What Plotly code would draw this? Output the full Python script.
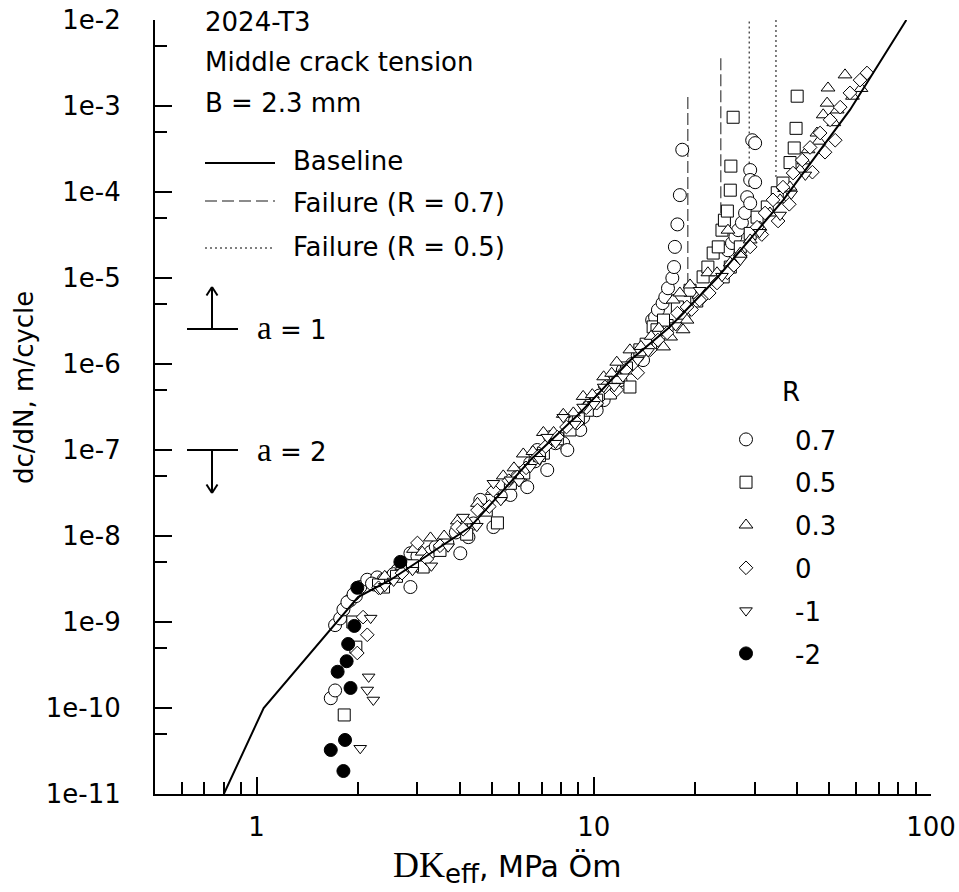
import plotly.graph_objects as go

FONT = "DejaVu Sans"
SERIF = "Liberation Serif"

# ---------------- data ----------------
baseline_dk = [0.8, 1.05, 2.0, 2.5, 4.3, 6.5, 9.1, 12.8, 16.8, 23.2, 36.4, 57.5, 84.5]
baseline_rate = [1e-11, 1e-10, 1.95e-9, 3.1e-9, 1.27e-8, 7.7e-8, 2.7e-7, 1.1e-6, 2.7e-6,
                 1.0e-5, 8.0e-5, 9.0e-4, 1.0e-2]

# failure lines (dK at failure, top / bottom of the vertical line)
fail07_dk = [19.0, 23.8]
fail07_top = [1.27e-3, 3.6e-3]
fail07_bot = [7.5e-6, 5.7e-5]
fail05_dk = [28.9, 34.7]
fail05_top = [9.6e-3, 1.0e-2]
fail05_bot = [1.8e-4, 1.38e-4]

# R = 0.7 (open circles)
dk_r07 = [1.66, 1.71, 1.71, 1.77, 1.81, 1.90, 1.97,
          1.86, 1.94, 2.03, 2.13, 2.28, 2.38, 2.49, 2.64, 2.73, 2.86, 2.92,
          2.62, 2.80, 2.86, 3.28, 3.68, 4.02, 4.25, 4.61, 5.04, 5.66, 5.93, 6.35, 6.48,
          6.80, 7.28, 7.43, 8.12, 8.35, 9.12, 9.30, 10.2, 10.7, 11.2, 12.0, 12.2, 14.0,
          14.7, 15.7,
          2.2, 2.4, 2.55, 3.0, 3.4, 3.9, 4.4, 5.3, 6.1, 6.7, 7.7, 8.8, 9.7, 10.4, 11.5, 13.0, 13.5,
          14.9, 15.2, 15.5, 16.0, 16.3, 16.6, 17.1, 17.3, 17.4, 17.7, 18.0, 18.3,
          25.0, 25.7, 26.3, 26.8, 27.5, 28.1, 28.5, 29.1, 29.1, 29.1, 30.1, 29.5, 30.1]
rate_r07 = [1.3e-10, 1.6e-10, 9.2e-10, 1.1e-9, 1.4e-9, 1.8e-9, 2.0e-9,
            1.7e-9, 2.1e-9, 2.55e-9, 3.1e-9, 3.3e-9, 3.1e-9, 3.3e-9, 4.0e-9, 4.85e-9, 2.55e-9, 6.0e-9,
            4.0e-9, 4.85e-9, 6.3e-9, 6.5e-9, 8.3e-9, 6.3e-9, 9.7e-9, 2.63e-8, 1.27e-8, 3.0e-8, 4.85e-8,
            3.7e-8, 7.06e-8,
            1.0e-7, 5.85e-8, 1.41e-7, 1.2e-7, 1.0e-7, 1.71e-7, 2.4e-7, 2.9e-7, 3.8e-7, 5.0e-7, 6.5e-7,
            8.5e-7, 1.11e-6,
            1.58e-6, 3.0e-6,
            2.8e-9, 3.0e-9, 3.6e-9, 5.8e-9, 7.5e-9, 1.1e-8, 1.4e-8, 2.9e-8, 5.0e-8, 7.4e-8, 1.2e-7,
            2.2e-7, 3.3e-7, 4.3e-7, 6.2e-7, 1.0e-6, 1.25e-6,
            3.24e-6, 3.5e-6, 4.25e-6, 5.1e-6, 6.0e-6, 7.6e-6, 1.0e-5, 1.34e-5, 2.3e-5, 4.2e-5, 9.2e-5, 3.1e-4,
            2.1e-5, 2.55e-5, 3.0e-5, 3.6e-5, 4.4e-5, 5.7e-5, 8.7e-5, 7.4e-5, 1.8e-4, 1.38e-4, 1.3e-4,
            4.0e-4, 3.7e-4]

# R = 0.5 (open squares)
dk_r05 = [1.97, 1.82, 1.93, 2.38,
          3.12, 5.18, 5.66, 7.09, 8.5, 9.57, 11.2, 12.8, 13.7, 15.0,
          2.3, 2.6, 2.9, 3.5, 4.2, 4.8, 6.2, 6.9, 7.8, 9.0, 10.2, 11.8, 12.5, 14.3, 16.5, 18.5, 20.2,
          15.4, 16.1, 17.7, 19.3, 21.1, 21.8, 22.6, 23.4, 24.0, 24.4, 24.9, 25.4, 25.5, 25.9,
          24.2, 25.4, 27.2, 29.1, 30.5, 32.7, 35.0, 36.4, 38.2, 39.3, 39.8, 40.1]
rate_r05 = [5.1e-10, 8.3e-11, 1.0e-9, 2.55e-9,
            4.36e-9, 1.42e-8, 4.1e-8, 9.2e-8, 1.71e-7, 2.9e-7, 4.6e-7, 5.4e-7, 1.46e-6, 2.7e-6,
            2.7e-9, 3.4e-9, 4.5e-9, 6.8e-9, 1.05e-8, 2.0e-8, 5.4e-8, 8.6e-8, 1.35e-7, 2.3e-7, 3.8e-7,
            7.0e-7, 9.0e-7, 1.7e-6, 2.8e-6, 3.9e-6, 5.4e-6,
            2.5e-6, 3.24e-6, 4.6e-6, 7.2e-6, 1.03e-5, 1.34e-5, 1.95e-5, 2.3e-5, 3.6e-5, 4.7e-5, 6.0e-5,
            1.05e-4, 2.0e-4, 7.4e-4,
            1.03e-5, 1.34e-5, 2.3e-5, 3.3e-5, 5.1e-5, 6.7e-5, 9.8e-5, 1.27e-4, 2.2e-4, 3.25e-4, 5.5e-4,
            1.3e-3]

# R = 0.3 (open up-triangles)
dk_r03 = [2.92, 3.28, 3.94, 4.52, 5.39, 6.18, 7.09, 8.12, 9.3, 10.7, 11.7, 12.8,
          2.4, 2.7, 3.1, 3.6, 4.2, 5.0, 5.8, 6.6, 7.6, 8.7, 9.9, 11.3, 13.8, 14.8, 15.6, 20.5,
          16.1, 16.9, 18.4, 18.9, 17.2, 18.0, 19.3, 21.8, 23.2, 25.4, 27.2, 29.1, 25.0, 31.1,
          33.3, 35.7, 38.2, 40.9, 43.2, 45.9, 47.9, 52.7, 49.2, 49.5, 55.6,
          36.8, 42.0, 46.5, 51.5, 58.5, 62.0]
rate_r03 = [7.0e-9, 9.5e-9, 1.5e-8, 2.4e-8, 5.0e-8, 9.0e-8, 1.6e-7, 2.6e-7, 4.2e-7, 7.1e-7,
            1.05e-6, 1.46e-6,
            3.4e-9, 4.4e-9, 6.5e-9, 1.0e-8, 1.5e-8, 3.3e-8, 6.2e-8, 9.6e-8, 1.6e-7, 2.7e-7, 4.4e-7,
            7.8e-7, 1.6e-6, 2.1e-6, 2.6e-6, 6.3e-6,
            1.58e-6, 2.06e-6, 2.5e-6, 3.24e-6, 5.55e-6, 6.7e-6, 8.3e-6, 1.15e-5, 1.15e-5, 1.5e-5,
            1.95e-5, 2.77e-5, 3.6e-5, 3.9e-5,
            5.7e-5, 8.1e-5, 1.14e-4, 1.8e-4, 3.1e-4, 4.85e-4, 7.9e-4, 9.0e-4, 1.08e-3, 1.62e-3, 2.3e-3,
            1.1e-4, 2.3e-4, 3.9e-4, 6.4e-4, 1.3e-3, 1.6e-3]

# R = 0 (open diamonds)
dk_r0 = [2.13, 1.99, 2.07,
         3.0, 3.94, 4.52, 5.04, 5.93, 6.8, 7.8, 8.93, 10.2, 11.7, 13.5, 14.7,
         2.3, 2.7, 3.2, 3.5, 4.1, 4.9, 5.6, 6.3, 7.2, 8.3, 9.5, 10.8, 12.4, 15.5, 16.5, 19.5, 21.0,
         26.0, 31.5, 35.2, 38.0, 44.5, 48.5, 52.0,
         17.7, 18.9, 20.6, 22.0, 23.2, 24.9, 27.2, 29.1, 30.5, 32.2, 34.0, 36.4, 39.0, 41.5,
         43.8, 46.9, 50.2, 53.8, 57.5, 61.6, 64.6]
rate_r0 = [7.1e-10, 4.36e-10, 1.14e-9,
           8.3e-9, 1.27e-8, 2.0e-8, 3.4e-8, 4.85e-8, 8.3e-8, 1.41e-7, 2.06e-7, 3.5e-7, 5.0e-7,
           7.9e-7, 1.46e-6,
           2.5e-9, 3.7e-9, 5.4e-9, 7.7e-9, 1.2e-8, 2.2e-8, 4.4e-8, 6.2e-8, 1.1e-7, 1.85e-7, 3.1e-7,
           5.4e-7, 8.5e-7, 1.9e-6, 2.3e-6, 4.3e-6, 5.9e-6,
           1.4e-5, 3.2e-5, 4.6e-5, 7.2e-5, 1.7e-4, 2.9e-4, 4.0e-4,
           3.9e-6, 4.6e-6, 5.55e-6, 6.7e-6, 8.75e-6, 1.15e-5, 1.75e-5, 2.3e-5, 3.9e-5, 5.7e-5,
           8.1e-5, 1.14e-4, 1.66e-4, 2.35e-4,
           3.3e-4, 4.85e-4, 6.9e-4, 9.7e-4, 1.42e-3, 2.0e-3, 2.42e-3]

# R = -1 (open down-triangles)
dk_rm1 = [2.18, 2.15, 2.13, 2.22, 2.03, 2.33, 2.55,
          3.3, 4.1, 5.04, 5.66, 6.48, 7.28, 8.12, 9.3, 10.7, 12.2, 13.5,
          2.4, 2.9, 3.7, 4.5, 5.3, 6.0, 6.9, 7.7, 8.8, 10.0, 11.5, 14.5, 17.5, 24.0, 31.0, 38.5,
          20.6, 27.2, 35.7, 42.4]
rate_rm1 = [1.11e-9, 2.3e-10, 1.62e-10, 1.24e-10, 3.4e-11, 2.4e-9, 3.0e-9,
            4.5e-9, 1.66e-8, 4.1e-8, 4.5e-8, 6.3e-8, 1.41e-7, 2.4e-7, 3.16e-7, 5.4e-7, 7.1e-7,
            1.11e-6,
            2.6e-9, 4.0e-9, 7.5e-9, 1.3e-8, 2.6e-8, 4.3e-8, 7.8e-8, 1.2e-7, 2.0e-7, 3.4e-7, 5.5e-7,
            1.4e-6, 2.8e-6, 1.05e-5, 3.4e-5, 9.5e-5,
            7.2e-6, 1.62e-5, 5.4e-5, 1.58e-4]

# R = -2 (filled circles)
dk_rm2 = [1.95, 1.87, 1.85, 1.74, 1.90, 1.83, 1.66, 1.81, 1.99, 2.67]
rate_rm2 = [9.0e-10, 5.55e-10, 3.5e-10, 2.64e-10, 1.71e-10, 4.25e-11, 3.25e-11, 1.85e-11,
            2.5e-9, 5.0e-9]

series_names = ["0.7", "0.5", "0.3", "0", "-1", "-2"]

x_tickvals = [1, 10, 100]
x_ticktext = ["1", "10", "100"]
x_minor = [0.6, 0.7, 0.8, 0.9, 2, 3, 4, 5, 6, 7, 8, 9, 20, 30, 40, 50, 60, 70, 80, 90]
y_tickvals = [1e-2, 1e-3, 1e-4, 1e-5, 1e-6, 1e-7, 1e-8, 1e-9, 1e-10, 1e-11]
y_ticktext = ["1e-2", "1e-3", "1e-4", "1e-5", "1e-6", "1e-7", "1e-8", "1e-9", "1e-10", "1e-11"]
y_minor = [5e-3, 5e-4, 5e-5, 5e-6, 5e-7, 5e-8, 5e-9, 5e-10, 5e-11]

# ---------------- figure ----------------
fig = go.Figure()

for i in range(len(fail07_dk)):
    fig.add_trace(go.Scatter(x=[fail07_dk[i], fail07_dk[i]], y=[fail07_top[i], fail07_bot[i]],
                             mode="lines", showlegend=False, hoverinfo="skip",
                             line=dict(color="#666666", width=1.5, dash="12px,4px")))
for i in range(len(fail05_dk)):
    fig.add_trace(go.Scatter(x=[fail05_dk[i], fail05_dk[i]], y=[fail05_top[i], fail05_bot[i]],
                             mode="lines", showlegend=False, hoverinfo="skip",
                             line=dict(color="black", width=1, dash="2px,3px")))

styles = [
    (dk_r07, rate_r07, "circle", "white", 13),
    (dk_r05, rate_r05, "square", "white", 12),
    (dk_r03, rate_r03, "triangle-up", "white", 12),
    (dk_r0, rate_r0, "diamond", "white", 10.5),
    (dk_rm1, rate_rm1, "triangle-down", "white", 11),
    (dk_rm2, rate_rm2, "circle", "black", 13),
]
for i, (xs, ys, sym, fill, size) in enumerate(styles):
    fig.add_trace(go.Scatter(
        x=xs, y=ys, mode="markers", name=series_names[i], legendgroup="g%d" % i,
        marker=dict(symbol=sym, size=size, color=fill, line=dict(color="black", width=1))))

fig.add_trace(go.Scatter(x=baseline_dk, y=baseline_rate, mode="lines", showlegend=False,
                         line=dict(color="black", width=2)))

# ---------------- layout helpers (page pixel -> paper) ----------------
FIG_W, FIG_H = 959, 892
L, R, T, B = 155, 931, 20, 794


def px(x):
    return (x - L) / (R - L)


def py(y):
    return (B - y) / (B - T)


def txt(x, y, s, **kw):
    d = dict(xref="paper", yref="paper", x=px(x), y=py(y), text=s, showarrow=False,
             xanchor="left", yanchor="middle",
             font=dict(family=FONT, size=26, color="black"))
    d.update(kw)
    return d


annotations = [
    txt(203, 22, "2024-T3"),
    txt(203, 62, "Middle crack tension"),
    txt(203, 103, "B = 2.3 mm"),
    txt(291, 161, "Baseline"),
    txt(291, 203, "Failure (R = 0.7)"),
    txt(291, 247, "Failure (R = 0.5)"),
    txt(255, 328, '<span style="font-family:%s;font-size:33px">a</span> = 1' % SERIF),
    txt(255, 450, '<span style="font-family:%s;font-size:33px">a</span> = 2' % SERIF),
    txt(780, 392, "R"),
    txt(24, 388, "dc/dN, m/cycle", xanchor="center", textangle=-90),
    txt(391, 867, '<span style="font-family:%s;font-size:36px">DK</span>'
                  '<sub><span style="font-size:26px">eff</span></sub>, MPa \u00d6m' % SERIF,
        font=dict(family=FONT, size=30, color="black")),
]


def seg(x0, y0, x1, y1, **line):
    ln = dict(color="black", width=2)
    ln.update(line)
    return dict(type="line", xref="paper", yref="paper", x0=px(x0), y0=py(y0), x1=px(x1), y1=py(y1),
                line=ln)


shapes = [
    seg(205, 163, 275, 163),
    seg(205, 201, 275, 201, color="#666666", width=1.5, dash="12px,5px"),
    seg(205, 248, 275, 248, width=1, dash="2px,3px"),
    # alpha = 1 indicator
    seg(187, 329, 238, 329),
    seg(212, 329, 212, 288),
    seg(212, 287, 206.5, 295.5),
    seg(212, 287, 217.5, 295.5),
    # alpha = 2 indicator
    seg(187, 450, 238, 450),
    seg(212, 450, 212, 492),
    seg(212, 493, 206.5, 484.5),
    seg(212, 493, 217.5, 484.5),
]

axis_common = dict(type="log", showline=True, linecolor="black", linewidth=2, mirror=False,
                   showgrid=False, zeroline=False, ticks="inside", ticklen=17, tickwidth=2,
                   tickcolor="black", automargin=False, ticklabeloverflow="allow",
                   tickfont=dict(family=FONT, size=26, color="black"))

fig.update_layout(
    width=FIG_W, height=FIG_H,
    margin=dict(l=L, r=FIG_W - R, t=T, b=FIG_H - B),
    paper_bgcolor="white", plot_bgcolor="white",
    xaxis=dict(range=[-0.30103, 2.0], tickmode="array", tickvals=x_tickvals, ticktext=x_ticktext,
               ticklabelstandoff=9,
               minor=dict(tickmode="array", tickvals=x_minor, ticks="inside", ticklen=12, tickwidth=2,
                          tickcolor="black", showgrid=False),
               **axis_common),
    yaxis=dict(range=[-11, -2], tickmode="array", tickvals=y_tickvals, ticktext=y_ticktext,
               ticklabelstandoff=27,
               minor=dict(tickmode="array", tickvals=y_minor, ticks="inside", ticklen=12, tickwidth=2,
                          tickcolor="black", showgrid=False),
               **axis_common),
    showlegend=True,
    legend=dict(x=px(697), y=py(416), xanchor="left", yanchor="top", bgcolor="rgba(0,0,0,0)",
                font=dict(family=FONT, size=26, color="black"), itemwidth=88, tracegroupgap=6,
                itemclick=False, itemdoubleclick=False),
    annotations=annotations,
    shapes=shapes,
)

# remove the default page margin so the figure fills the window exactly
fig.write_html("out.html", config={"displayModeBar": False},
               post_script="document.body.style.margin='0';")
